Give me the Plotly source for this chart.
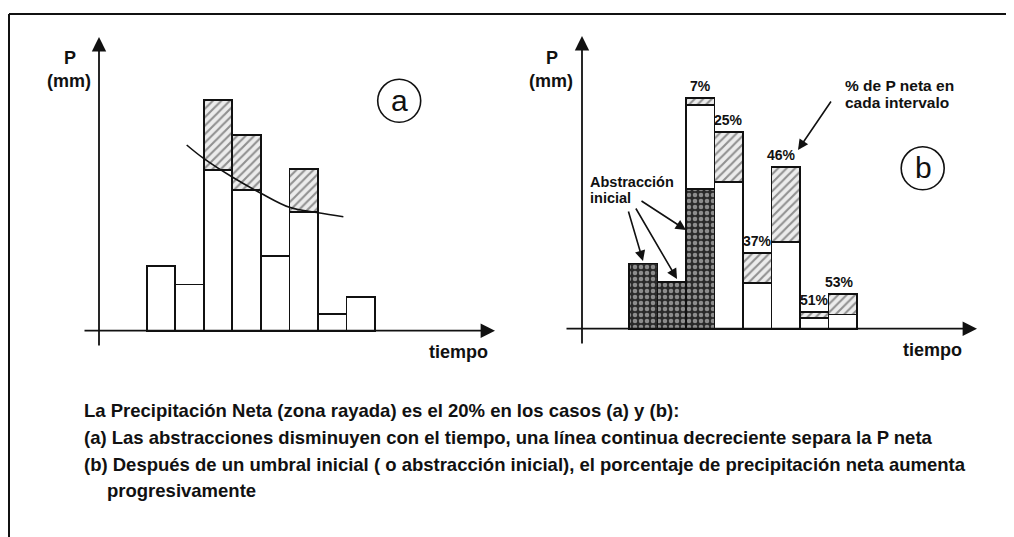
import plotly.graph_objects as go

# the page body keeps an 8px margin, so the figure sits at (8, 8)
OFF = 8
W, H = 1014 - OFF, 537 - OFF

# ---------------- data ----------------
intervals = [1, 2, 3, 4, 5, 6, 7, 8]
# panel (a): abstraction (white) and net precipitation (hatched), mm
a_abstraccion = [2.80, 2.00, 6.95, 6.10, 3.25, 5.15, 0.72, 1.47]
a_neta = [None, None, 3.05, 2.40, None, 1.85, None, None]
# decreasing abstraction curve in panel (a)
curve_t = [1.90, 2.47, 3.51, 4.50, 5.50, 6.51, 7.39]
curve_p = [8.05, 7.49, 6.65, 5.96, 5.35, 5.11, 4.94]
# panel (b): initial abstraction (dotted), further abstraction (white), net (hatched)
b_inicial = [2.83, 2.01, 6.06, None, None, None, None, None]
b_abstraccion = [None, None, 3.64, 6.35, 1.99, 3.75, 0.48, 0.62]
b_neta = [None, None, 0.30, 2.17, 1.28, 3.27, 0.25, 0.90]
pct_intervals = [3, 4, 5, 6, 7, 8]
pct_labels = ["7%", "25%", "37%", "46%", "51%", "53%"]
pct_dx = [0, 0, 0, -4, 0, -3]

FONT = "Liberation Sans, Arial, Helvetica, sans-serif"
HATCH = dict(shape="/", bgcolor="#ececec", fgcolor="#333333", size=6, solidity=0.35)
DOTS = dict(shape=".", bgcolor="#2a2a2a", fgcolor="#f0f0f0", size=6, solidity=0.45)
LINE = dict(color="#111111", width=1.8)


def px(x):
    return (x - OFF) / W


def py(y):
    return 1 - (y - OFF) / H


# pixel geometry (screen coordinates) of the two panels
A = dict(c1=161.0, bw=28.54, base=330.7, unit=23.07, left=80, right=500)
B = dict(c1=643.25, bw=28.5, base=328.7, unit=23.07, left=560, right=1000)
TOP, BOT = 30, 370


def xr(p):
    return [(p["left"] - p["c1"]) / p["bw"] + 1, (p["right"] - p["c1"]) / p["bw"] + 1]


def yr(p):
    return [-(BOT - p["base"]) / p["unit"], (p["base"] - TOP) / p["unit"]]


fig = go.Figure()

# panel a bars
fig.add_trace(go.Bar(x=intervals, y=a_abstraccion, width=1, xaxis="x", yaxis="y",
                     marker=dict(color="white", line=LINE), showlegend=False))
fig.add_trace(go.Bar(x=intervals, y=a_neta, width=1, xaxis="x", yaxis="y",
                     marker=dict(color="#ececec", pattern=HATCH, line=LINE), showlegend=False))
fig.add_trace(go.Scatter(x=curve_t, y=curve_p, mode="lines", xaxis="x", yaxis="y",
                         line=dict(color="#111111", width=1.6, shape="spline"), showlegend=False))

# panel b bars
fig.add_trace(go.Bar(x=intervals, y=b_inicial, width=1, xaxis="x2", yaxis="y2",
                     marker=dict(color="#2a2a2a", pattern=DOTS, line=LINE), showlegend=False))
fig.add_trace(go.Bar(x=intervals, y=b_abstraccion, width=1, xaxis="x2", yaxis="y2",
                     marker=dict(color="white", line=LINE), showlegend=False))
fig.add_trace(go.Bar(x=intervals, y=b_neta, width=1, xaxis="x2", yaxis="y2",
                     marker=dict(color="#ececec", pattern=HATCH, line=LINE), showlegend=False))

ax_common = dict(showgrid=False, zeroline=False, showticklabels=False, showline=False, ticks="",
                 fixedrange=True)
fig.update_layout(
    width=W, height=H, margin=dict(l=0, r=0, t=0, b=0),
    paper_bgcolor="white", plot_bgcolor="rgba(0,0,0,0)",
    barmode="stack",
    xaxis=dict(domain=[px(A["left"]), px(A["right"])], range=xr(A), anchor="y", **ax_common),
    yaxis=dict(domain=[py(BOT), py(TOP)], range=yr(A), anchor="x", **ax_common),
    xaxis2=dict(domain=[px(B["left"]), px(B["right"])], range=xr(B), anchor="y2", **ax_common),
    yaxis2=dict(domain=[py(BOT), py(TOP)], range=yr(B), anchor="x2", **ax_common),
    font=dict(family=FONT, color="#111111"),
)

ann = []
shapes = []


def arrow(hx, hy, tx, ty, size=1.3, width=1.6, head=2):
    ann.append(dict(x=px(hx), y=py(hy), xref="paper", yref="paper", text="",
                    showarrow=True, ax=tx - hx, ay=ty - hy, arrowhead=head,
                    arrowsize=size, arrowwidth=width, arrowcolor="#111111", standoff=0))


# axes with arrows
arrow(99, 37, 99, 347, size=1.6, width=1.8)
arrow(495, 330.7, 83, 330.7, size=1.6, width=1.8)
arrow(582, 36, 582, 345, size=1.6, width=1.8)
arrow(977, 328.7, 565, 328.7, size=1.6, width=1.8)

# annotation arrows panel b
arrow(798, 150, 832, 100)
arrow(643, 261, 628, 210)
arrow(677, 279, 635, 207)
arrow(686, 230, 640, 200)


def text(x, y, s, size=15, bold=True, xanchor="center", color="#111111"):
    ann.append(dict(x=px(x), y=py(y), xref="paper", yref="paper", text=s, showarrow=False,
                    xanchor=xanchor, yanchor="middle",
                    font=dict(family=FONT, size=size, color=color,
                              weight="bold" if bold else "normal")))


text(70, 58, "P", 18)
text(69, 81, "(mm)", 18)
text(552, 58, "P", 18)
text(551, 81, "(mm)", 18)
text(458, 352, "tiempo", 18)
text(932, 350, "tiempo", 18)
text(399, 100, "a", 30, bold=False)
text(923, 167, "b", 30, bold=False)
text(843, 86, "% de P neta en", 15.5, xanchor="left")
text(843, 102, "cada intervalo", 15.5, xanchor="left")
text(588, 182, "Abstracción", 14.5, xanchor="left")
text(588, 198, "inicial", 14.5, xanchor="left")

# percentage labels through panel b scales
for t, lab, dx in zip(pct_intervals, pct_labels, pct_dx):
    total = sum(v for v in (b_inicial[t - 1], b_abstraccion[t - 1], b_neta[t - 1]) if v)
    ann.append(dict(x=t, y=total, xref="x2", yref="y2", text=lab, showarrow=False,
                    xanchor="center", yanchor="bottom", yshift=2, xshift=dx,
                    font=dict(family=FONT, size=14, color="#111111", weight="bold")))

# caption
CAP = 18.5
text(82, 410, "La Precipitación Neta (zona rayada) es el 20% en los casos (a) y (b):", CAP, xanchor="left")
text(82, 437, "(a) Las abstracciones disminuyen con el tiempo, una línea continua decreciente separa la P neta", CAP, xanchor="left")
text(82, 464, "(b) Después de un umbral inicial ( o abstracción inicial), el porcentaje de precipitación neta aumenta", CAP, xanchor="left")
text(105, 490, "progresivamente", CAP, xanchor="left")

# circles
for cx, cy, r in [(399.2, 100.8, 21.5), (922.7, 168.3, 21.5)]:
    shapes.append(dict(type="circle", xref="paper", yref="paper",
                       x0=px(cx - r), x1=px(cx + r), y0=py(cy + r), y1=py(cy - r),
                       line=dict(color="#111111", width=1.6)))

# outer frame (top and left edges)
shapes.append(dict(type="line", xref="paper", yref="paper", x0=px(9), x1=1.0, y0=py(14), y1=py(14),
                   line=dict(color="#111111", width=2)))
shapes.append(dict(type="line", xref="paper", yref="paper", x0=px(9), x1=px(9), y0=py(14), y1=0,
                   line=dict(color="#111111", width=2)))

fig.update_layout(annotations=ann, shapes=shapes)
fig.write_html("out.html")
